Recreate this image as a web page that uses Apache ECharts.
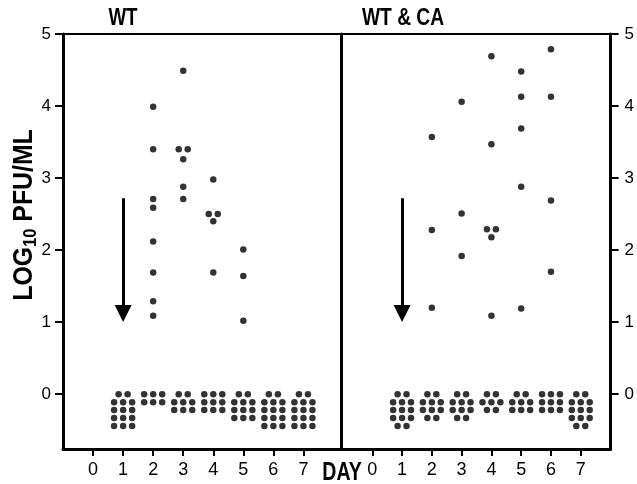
<!DOCTYPE html>
<html>
<head>
<meta charset="utf-8">
<script src="https://cdn.jsdelivr.net/npm/echarts@6/dist/echarts.min.js"></script>
<style>
  html, body { margin: 0; padding: 0; background: #fff; }
  #main { width: 637px; height: 484px; }
</style>
</head>
<body>
<div id="main"></div>
<script>
const days = [0, 1, 2, 3, 4, 5, 6, 7];
const logTicks = [0, 1, 2, 3, 4, 5];

// detected titres: [day, log10 pfu/ml]
const wtDetected = [
  [2, 3.99], [2, 3.40], [2, 2.71], [2, 2.59], [2, 2.12], [2, 1.69], [2, 1.29], [2, 1.09],
  [3, 4.49], [2.85, 3.40], [3.15, 3.40], [3, 3.26], [3, 2.88], [3, 2.71],
  [4, 2.98], [3.85, 2.50], [4.15, 2.50], [4, 2.40], [4, 1.69],
  [5, 2.01], [5, 1.64], [5, 1.02]
];
const caDetected = [
  [2, 3.57], [2, 2.28], [2, 1.20],
  [3, 4.06], [3, 2.51], [3, 1.92],
  [4, 4.69], [4, 3.47], [3.85, 2.29], [4.15, 2.29], [4, 2.18], [4, 1.09],
  [5, 4.48], [5, 4.13], [5, 3.69], [5, 2.88], [5, 1.19],
  [6, 4.79], [6, 4.13], [6, 2.69], [6, 1.70]
];

// undetected samples: dots per row, days 1..7
const belowDays = [1, 2, 3, 4, 5, 6, 7];
const wtBelowRows = [[2, 3, 3, 3, 3], [3, 3], [2, 3, 3], [3, 3, 3], [2, 3, 3, 3], [2, 3, 3, 3, 3], [2, 3, 3, 3, 3]];
const caBelowRows = [[2, 3, 3, 3, 2], [2, 3, 3, 2], [2, 3, 3, 2], [2, 3, 2], [2, 3, 3], [3, 3, 3], [2, 3, 3, 3, 2]];
const rowLevels = [0, -0.11, -0.22, -0.33, -0.44];
const rowOffsets = { 2: [-0.15, 0.15], 3: [-0.3, 0, 0.3] };

// arrow (limit of detection) at day 1
const arrowDay = 1;
const arrowTop = 2.72;
const arrowEnd = 1.12;

const font = "'Liberation Sans', Arial, sans-serif";

function belowPoints(rows) {
  const pts = [];
  rows.forEach((counts, i) => {
    counts.forEach((n, r) => {
      rowOffsets[n].forEach(off => pts.push([belowDays[i] + off, rowLevels[r]]));
    });
  });
  return pts;
}

function arrowLine() {
  return {
    silent: true,
    symbol: ['none', 'triangle'],
    symbolSize: 17,
    label: { show: false },
    lineStyle: { color: '#000', width: 3, type: 'solid' },
    data: [[{ coord: [arrowDay, arrowTop] }, { coord: [arrowDay, arrowEnd] }]]
  };
}

function bottomAxis(grid, min, max) {
  return {
    type: 'value', gridIndex: grid, position: 'bottom', min: min, max: max,
    axisLine: { onZero: false, lineStyle: { color: '#000', width: 3 } },
    axisTick: { customValues: days, length: 7, lineStyle: { color: '#000', width: 2 } },
    axisLabel: { customValues: days, color: '#000', fontSize: 18, margin: 12, fontFamily: font },
    splitLine: { show: false }
  };
}
function topAxis(grid, min, max) {
  return {
    type: 'value', gridIndex: grid, position: 'top', min: min, max: max,
    axisLine: { onZero: false, lineStyle: { color: '#000', width: 2 } },
    axisTick: { show: false }, axisLabel: { show: false }, splitLine: { show: false }
  };
}
function sideAxis(grid, pos, labels) {
  return {
    type: 'value', gridIndex: grid, position: pos, min: -0.76, max: 5,
    axisLine: { show: true, onZero: false, lineStyle: { color: '#000', width: 3 } },
    axisTick: { show: labels, customValues: logTicks, length: 8, lineStyle: { color: '#000', width: 2 } },
    axisLabel: { show: labels, customValues: logTicks, color: '#000', fontSize: 17, margin: pos === 'right' ? 14 : 12, fontFamily: font },
    splitLine: { show: false }
  };
}

function label(text, x, y, size, sx) {
  return {
    type: 'text', x: x, y: y, scaleX: sx,
    style: { text: text, fontSize: size, fontWeight: 'bold', fontFamily: font, fill: '#000', align: 'center', verticalAlign: 'middle' }
  };
}

const chart = echarts.init(document.getElementById('main'));
chart.setOption({
  animation: false,
  backgroundColor: '#fff',
  grid: [
    { left: 63, top: 34, width: 278, height: 415 },
    { left: 341, top: 34, width: 276, height: 415 }
  ],
  xAxis: [bottomAxis(0, -1, 8.25), topAxis(0, -1, 8.25), bottomAxis(1, -1.05, 8), topAxis(1, -1.05, 8)],
  yAxis: [sideAxis(0, 'left', true), sideAxis(1, 'left', false), sideAxis(1, 'right', true)],
  graphic: [
    label('WT', 123, 18, 24, 0.78),
    label('WT & CA', 403, 18, 24, 0.8),
    label('DAY', 342, 473, 25, 0.78),
    {
      type: 'text', x: 25, y: 215, rotation: Math.PI / 2, scaleX: 0.92,
      style: {
        text: '{a|LOG}{b|10}{a| PFU/ML}',
        align: 'center', verticalAlign: 'middle', fill: '#000',
        rich: {
          a: { fontSize: 27, fontWeight: 'bold', fontFamily: font, fill: '#000' },
          b: { fontSize: 18, fontWeight: 'bold', fontFamily: font, fill: '#000', padding: [12, 0, 0, 0] }
        }
      }
    }
  ],
  series: [
    {
      type: 'scatter', xAxisIndex: 0, yAxisIndex: 0, silent: true,
      symbol: 'circle', symbolSize: 6.5, itemStyle: { color: '#000' },
      data: wtDetected.concat(belowPoints(wtBelowRows)),
      markLine: arrowLine()
    },
    {
      type: 'scatter', xAxisIndex: 2, yAxisIndex: 2, silent: true,
      symbol: 'circle', symbolSize: 6.5, itemStyle: { color: '#000' },
      data: caDetected.concat(belowPoints(caBelowRows)),
      markLine: arrowLine()
    }
  ]
});
</script>
</body>
</html>
